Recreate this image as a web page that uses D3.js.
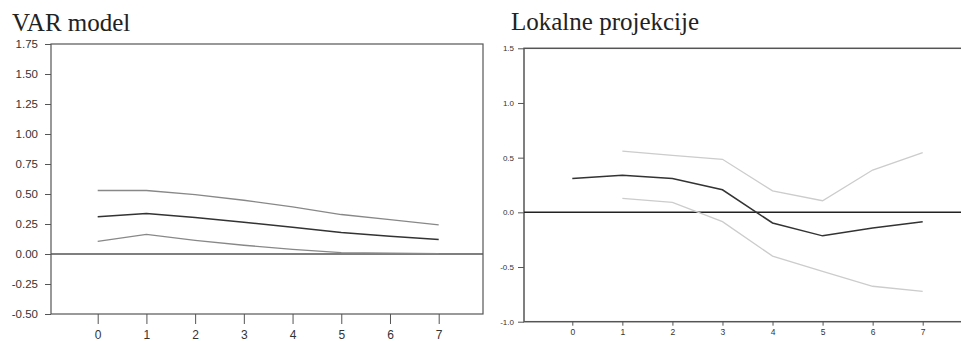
<!DOCTYPE html>
<html>
<head>
<meta charset="utf-8">
<script src="https://cdn.jsdelivr.net/npm/d3@7"></script>
<style>
  html, body { margin: 0; padding: 0; background: #fff; }
  svg { display: block; }
  .title { font-family: "Liberation Serif", "Times New Roman", serif; font-size: 25px; fill: #222; }
  .axis text { font-family: "Liberation Sans", Arial, sans-serif; fill: #333; }
  .axis line { stroke: #555; }
  .axis path { display: none; }
</style>
</head>
<body>
<div id="chart"></div>
<script>
// horizons (quarters after shock)
const horizons = [0, 1, 2, 3, 4, 5, 6, 7];

// VAR model impulse response and band
const varMid = [0.31, 0.337, 0.304, 0.264, 0.222, 0.18, 0.148, 0.12];
const varUpper = [0.529, 0.529, 0.495, 0.448, 0.392, 0.329, 0.287, 0.242];
const varLower = [0.106, 0.164, 0.114, 0.073, 0.039, 0.012, 0.008, 0.003];

// local projections, bands start at horizon 1
const lpMid = [0.309, 0.339, 0.309, 0.206, -0.097, -0.215, -0.143, -0.085];
const lpUpper = [null, 0.56, 0.52, 0.485, 0.197, 0.106, 0.387, 0.545];
const lpLower = [null, 0.127, 0.091, -0.085, -0.4, -0.54, -0.676, -0.722];

const varTicks = [1.75, 1.5, 1.25, 1.0, 0.75, 0.5, 0.25, 0, -0.25, -0.5];
const lpTicks = [1.5, 1.0, 0.5, 0, -0.5, -1.0];

const width = 961;
const height = 341;

const svg = d3.select('#chart')
  .append('svg')
  .attr('width', width)
  .attr('height', height);

function drawPanel(p) {
  const x = d3.scaleLinear().domain([0, 7]).range(p.xRange);
  const y = d3.scaleLinear().domain(p.yDomain).range([p.bottom, p.top]);

  const g = svg.append('g');

  // frame
  g.append('rect')
    .attr('x', p.left)
    .attr('y', p.top)
    .attr('width', p.right - p.left)
    .attr('height', p.bottom - p.top)
    .attr('fill', 'none')
    .attr('stroke', '#555')
    .attr('stroke-width', p.frameWidth);

  g.append('g')
    .attr('class', 'axis')
    .attr('transform', `translate(${p.left}, 0)`)
    .call(d3.axisLeft(y)
      .tickValues(p.yTicks)
      .tickSize(6)
      .tickPadding(p.yPad)
      .tickFormat(d => d.toFixed(p.decimals)))
    .selectAll('text')
    .style('font-size', p.yFont + 'px');

  g.append('g')
    .attr('class', 'axis')
    .attr('transform', `translate(0, ${p.bottom})`)
    .call(d3.axisBottom(x)
      .tickValues(horizons)
      .tickSize(p.xTick)
      .tickPadding(p.xPad)
      .tickFormat(d3.format('d')))
    .selectAll('text')
    .style('font-size', p.xFont + 'px');

  // zero line
  g.append('line')
    .attr('x1', p.left)
    .attr('x2', p.right)
    .attr('y1', y(0))
    .attr('y2', y(0))
    .attr('stroke', p.zeroColor)
    .attr('stroke-width', 1.5);

  const line = d3.line()
    .defined(d => d[1] !== null)
    .x(d => x(d[0]))
    .y(d => y(d[1]));

  const series = [
    { values: p.upper, color: p.bandColor, w: 1.3 },
    { values: p.lower, color: p.bandColor, w: 1.3 },
    { values: p.mid, color: '#333', w: 1.5 },
  ];

  series.forEach(s => {
    g.append('path')
      .datum(horizons.map((h, i) => [h, s.values[i]]))
      .attr('d', line)
      .attr('fill', 'none')
      .attr('stroke', s.color)
      .attr('stroke-width', s.w);
  });

  svg.append('text')
    .attr('class', 'title')
    .attr('x', p.titleX)
    .attr('y', p.titleY)
    .text(p.title);
}

drawPanel({
  title: 'VAR model', titleX: 12, titleY: 31,
  left: 51, right: 483, top: 44, bottom: 314,
  xRange: [97.7, 438.7], yDomain: [-0.5, 1.75],
  yTicks: varTicks, decimals: 2, yPad: 7, yFont: 11.5,
  xTick: 10, xPad: 6, xFont: 12,
  frameWidth: 1.2, zeroColor: '#555', bandColor: '#888',
  mid: varMid, upper: varUpper, lower: varLower,
});

drawPanel({
  title: 'Lokalne projekcije', titleX: 511, titleY: 29.5,
  left: 524, right: 964, top: 48.3, bottom: 321.7,
  xRange: [572.3, 922.7], yDomain: [-1, 1.5],
  yTicks: lpTicks, decimals: 1, yPad: 4, yFont: 8,
  xTick: 4, xPad: 3, xFont: 8.5,
  frameWidth: 1.5, zeroColor: '#222', bandColor: '#ccc',
  mid: lpMid, upper: lpUpper, lower: lpLower,
});
</script>
</body>
</html>
